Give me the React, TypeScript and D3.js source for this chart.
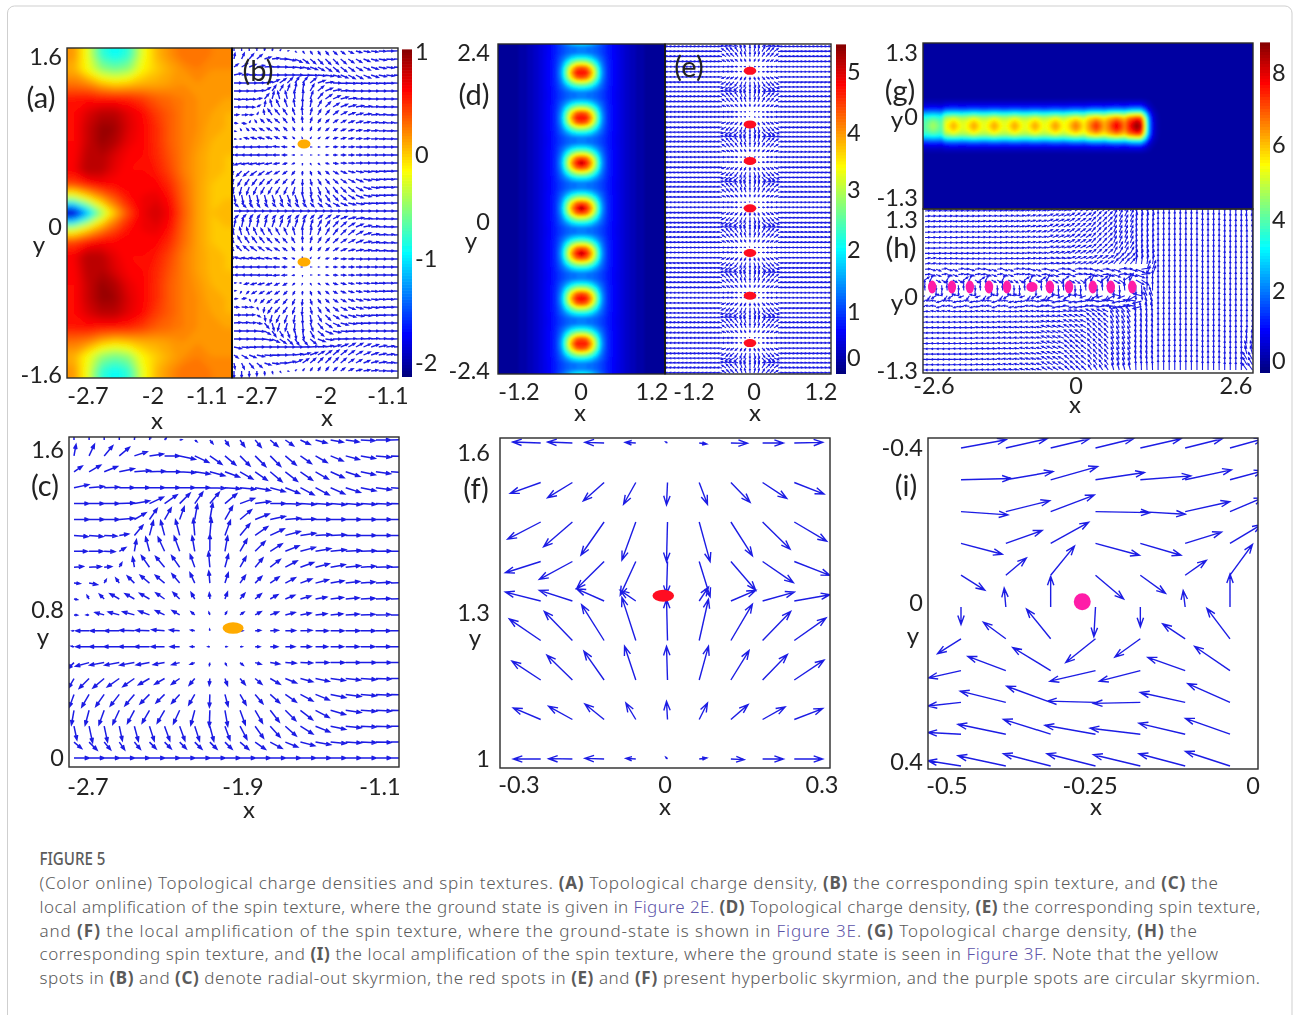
import React from "react";
import * as d3 from "d3";

// ---- values ----

// (a) topological charge density, top row first
const aCharge = [
  [0.18, -0.2, -0.75, -0.88, -0.75, -0.2, 0.08, 0.2, 0.3, 0.3, 0.25, 0.22],
  [0.1, -0.15, -0.45, -0.55, -0.45, -0.12, 0.02, 0.12, 0.2, 0.25, 0.2, 0.2],
  [0.28, 0.22, 0.08, 0.0, 0.05, 0.1, 0.12, 0.16, 0.2, 0.2, 0.15, 0.15],
  [0.55, 0.58, 0.55, 0.55, 0.52, 0.45, 0.35, 0.3, 0.25, 0.2, 0.15, 0.15],
  [0.6, 0.72, 0.82, 0.82, 0.7, 0.6, 0.45, 0.35, 0.25, 0.2, 0.15, 0.1],
  [0.6, 0.78, 0.92, 0.9, 0.72, 0.62, 0.5, 0.35, 0.25, 0.2, 0.12, 0.1],
  [0.6, 0.78, 0.92, 0.85, 0.68, 0.62, 0.5, 0.35, 0.25, 0.18, 0.1, 0.08],
  [0.62, 0.82, 0.85, 0.72, 0.63, 0.6, 0.52, 0.38, 0.25, 0.15, 0.08, 0.05],
  [0.65, 0.85, 0.82, 0.68, 0.6, 0.6, 0.55, 0.42, 0.25, 0.15, 0.08, 0.05],
  [0.42, 0.55, 0.62, 0.62, 0.62, 0.62, 0.62, 0.5, 0.3, 0.15, 0.05, 0.05],
  [-0.4, -0.12, 0.15, 0.38, 0.58, 0.66, 0.7, 0.58, 0.32, 0.15, 0.05, 0.05],
  [-1.95, -1.15, -0.45, 0.05, 0.42, 0.68, 0.76, 0.64, 0.35, 0.15, 0.05, 0.08],
  [-0.4, -0.12, 0.15, 0.38, 0.58, 0.66, 0.7, 0.58, 0.32, 0.15, 0.05, 0.05],
  [0.42, 0.55, 0.62, 0.62, 0.62, 0.62, 0.62, 0.5, 0.3, 0.15, 0.05, 0.05],
  [0.65, 0.85, 0.82, 0.68, 0.6, 0.6, 0.55, 0.42, 0.25, 0.15, 0.08, 0.05],
  [0.62, 0.82, 0.85, 0.72, 0.63, 0.6, 0.52, 0.38, 0.25, 0.15, 0.08, 0.05],
  [0.6, 0.78, 0.92, 0.85, 0.68, 0.62, 0.5, 0.35, 0.25, 0.18, 0.1, 0.08],
  [0.6, 0.78, 0.92, 0.9, 0.72, 0.62, 0.5, 0.35, 0.25, 0.2, 0.12, 0.1],
  [0.6, 0.72, 0.82, 0.82, 0.7, 0.6, 0.45, 0.35, 0.25, 0.2, 0.15, 0.1],
  [0.55, 0.58, 0.55, 0.55, 0.52, 0.45, 0.35, 0.3, 0.25, 0.2, 0.15, 0.15],
  [0.28, 0.22, 0.08, 0.0, 0.05, 0.1, 0.12, 0.16, 0.2, 0.2, 0.15, 0.15],
  [0.1, -0.15, -0.45, -0.55, -0.45, -0.12, 0.02, 0.12, 0.2, 0.25, 0.2, 0.2],
  [0.18, -0.2, -0.75, -0.88, -0.75, -0.2, 0.08, 0.2, 0.3, 0.3, 0.25, 0.22],
];

// (d) one skyrmion: rows are distance from the spot along y, columns along x
const dSpotCell = [
  [4.9, 4.6, 3.8, 2.6, 1.4, 0.8, 0.55, 0.42, 0.3, 0.2, 0.12, 0.05, 0, -0.05, -0.1, -0.1, -0.1],
  [4.3, 4.1, 3.4, 2.4, 1.3, 0.8, 0.55, 0.42, 0.3, 0.2, 0.12, 0.05, 0, -0.05, -0.1, -0.1, -0.1],
  [3.0, 2.9, 2.5, 1.85, 1.15, 0.75, 0.55, 0.42, 0.3, 0.2, 0.12, 0.05, 0, -0.05, -0.1, -0.1, -0.1],
  [1.9, 1.85, 1.65, 1.3, 1.0, 0.72, 0.53, 0.42, 0.3, 0.2, 0.12, 0.05, 0, -0.05, -0.1, -0.1, -0.1],
  [1.2, 1.15, 1.1, 1.0, 0.85, 0.68, 0.52, 0.4, 0.3, 0.2, 0.12, 0.05, 0, -0.05, -0.1, -0.1, -0.1],
];
const dSpotPeaks = [4.7, 4.7, 5.2, 5.3, 5.2, 4.8, 4.6];

// (g) one skyrmion of the chain, and the height of each spot
const gSpotCell = [
  [6.4, 6.1, 5.2, 3.6, 1.9, 0.8, 0.25],
  [6.0, 5.7, 5.0, 3.5, 1.9, 0.75, 0.25],
  [5.4, 5.3, 4.8, 3.4, 1.8, 0.7, 0.25],
];
const gSpotPeaks = [4.6, 6.1, 6.2, 6.2, 6.2, 6.2, 6.3, 6.6, 7.3, 7.8, 8.7];
const gChainEnd = [1, 1, 0.7, 0.3, 0.08, 0.02, 0];

// (f) spin components, rows 1.6 -> 1
const fU = [
  [-85, -75, -58, -32, -5, 23, 50, 63, 86],
  [-92, -75, -63, -37, -3, 25, 58, 73, 90],
  [-100, -87, -70, -42, -3, 33, 65, 83, 98],
  [-107, -100, -83, -47, -3, 33, 75, 93, 108],
  [-107, -100, -83, -47, -3, 28, 75, 96, 108],
  [-95, -85, -68, -42, -3, 28, 65, 85, 96],
  [-87, -77, -61, -34, -3, 28, 55, 75, 90],
  [-83, -72, -58, -30, -3, 25, 52, 68, 86],
  [-83, -72, -58, -30, -5, 23, 40, 63, 86],
];
const fV = [
  [3, 3, 2, 2, 3, -3, -1, 0, 2],
  [-33, -46, -56, -66, -68, -66, -60, -48, -35],
  [-52, -75, -100, -115, -120, -120, -102, -82, -58],
  [-34, -54, -82, -102, -100, -107, -87, -64, -42],
  [27, 32, 37, 32, 37, 42, 32, 27, 19],
  [65, 88, 108, 130, 125, 125, 110, 88, 68],
  [57, 75, 87, 102, 102, 102, 89, 77, 60],
  [35, 40, 47, 50, 55, 50, 45, 38, 33],
  [0, 1, 2, 2, 5, 3, -2, 0, 0],
];
// (e) far from the spots, only the tilt per row is left
const eFarV = [0, -10, -15, -10, 8, 15, 12, 8, 0];

// (i) spin components, rows -0.4 -> 0.4
const iU = [
  [137, 125, 117, 115, 123, 112, 100],
  [152, 143, 142, 148, 153, 140, 100],
  [142, 133, 132, 165, 136, 135, 100],
  [125, 110, 115, 133, 123, 110, 95],
  [72, 62, 72, 85, 76, 64, 68],
  [0, -5, 0, -5, 0, -6, 0],
  [-71, -68, -73, -90, -77, -68, -70],
  [-98, -115, -115, -138, -124, -113, -107],
  [-100, -138, -133, -145, -142, -136, -128],
  [-100, -145, -143, -153, -152, -140, -135],
  [-100, -145, -143, -147, -142, -140, -135],
];
const iV = [
  [25, 28, 28, 28, 28, 28, 28],
  [4, 25, 40, 22, 12, 30, 27],
  [-10, 33, 50, -3, -8, 30, 42],
  [-33, 39, 64, -36, -36, 34, 57],
  [-45, 52, 88, -72, -55, 45, 93],
  [-53, 57, 93, -90, -60, 50, 100],
  [-45, 50, 90, -72, -55, 45, 92],
  [-22, 43, 70, -32, -32, 40, 73],
  [-11, 34, 49, 4, -3, 30, 57],
  [5, 30, 45, 27, 18, 33, 48],
  [16, 31, 37, 37, 34, 37, 44],
];

// (c), also used for (b): arrow direction in degrees and arrow length, y from 1.6 to 0
const cAngle = [
  [90, 90, 90, 90, 85, 75, 50, 10, -40, -50, -55, -55, -50, -40, -35, -25, -15, -10, -8, -3, 0, 2],
  [80, 65, 50, 40, 18, 8, 0, -12, -25, -35, -40, -45, -45, -45, -40, -35, -30, -22, -15, -10, -5, -2],
  [35, 30, 22, 12, 5, 2, 0, -3, -8, -15, -20, -30, -35, -40, -38, -35, -30, -24, -18, -12, -8, -4],
  [12, 5, 2, 0, 0, 0, 0, 0, 0, -2, -4, -6, -10, -15, -22, -28, -28, -24, -18, -12, -8, -4],
  [0, 0, 0, 2, 10, 25, 35, 45, 55, 50, 40, 20, 8, 0, -2, -3, -3, -4, -4, -3, -2, -1],
  [0, 0, 0, 5, 30, 55, 60, 70, 80, 80, 60, 40, 22, 12, 5, 2, 0, 0, 0, 0, 0, 0],
  [-5, -5, -3, 8, 50, 75, 105, 105, 95, 85, 70, 50, 35, 25, 15, 8, 3, 2, 0, 0, 0, 0],
  [0, 0, -2, 30, 80, 105, 115, 110, 100, 90, 80, 60, 45, 32, 22, 15, 10, 6, 3, 2, 1, 0],
  [5, 3, 5, 60, 100, 125, 130, 125, 110, 95, 75, 60, 50, 38, 28, 20, 14, 10, 6, 4, 2, 1],
  [-5, -10, 60, 125, 135, 140, 140, 130, 115, 95, 72, 55, 45, 35, 28, 20, 15, 10, 7, 5, 3, 2],
  [-10, 120, 135, 150, 150, 150, 145, 135, 120, 95, 70, 50, 40, 30, 22, 16, 10, 7, 5, 3, 2, 1],
  [-5, 180, 165, 165, 165, 160, 155, 150, 140, 110, 60, 35, 28, 20, 14, 10, 6, 5, 3, 2, 1, 0],
  [180, 180, 180, 180, 178, 178, 175, 175, 170, 100, 0, 0, 5, 3, 2, 2, 0, 0, 0, 0, 0, 0],
  [170, 180, 180, 180, 180, 180, 180, 180, 180, 180, 0, 0, 0, 0, 0, 0, 0, 0, 0, 0, 0, 0],
  [225, 195, 190, 190, 190, 190, 190, 195, 200, 260, -60, -40, -15, -8, -3, -2, 0, 0, 0, 0, 0, 0],
  [240, 225, 220, 215, 215, 210, 210, 215, 230, 265, -70, -50, -40, -30, -22, -15, -12, -8, -6, -4, -2, 0],
  [250, 240, 235, 232, 230, 225, 225, 228, 240, 268, -75, -60, -50, -42, -35, -28, -22, -12, -8, -5, -3, -2],
  [260, 255, 250, 245, 242, 240, 240, 245, 255, 268, -80, -70, -60, -52, -45, -38, -28, -16, -8, -4, -3, -2],
  [-78, -78, -78, -78, -75, -72, -70, -70, -72, -75, -70, -62, -55, -48, -42, -32, -22, -12, -6, -3, -2, -1],
  [-40, -45, -50, -55, -50, -45, -45, -45, -45, -45, -45, -40, -35, -28, -22, -14, -10, -5, -3, -2, -1, 0],
  [0, 0, 0, 0, 0, 0, 0, 0, 0, 0, 0, 0, 0, 0, 0, 0, 0, 0, 0, 0, 0, 0],
];
const cLength = [
  [40, 38, 32, 28, 22, 14, 8, 6, 8, 14, 20, 24, 28, 30, 30, 32, 35, 38, 40, 42, 44, 45],
  [35, 38, 40, 40, 40, 42, 45, 48, 46, 44, 42, 42, 45, 44, 42, 40, 40, 40, 42, 44, 45, 45],
  [30, 40, 43, 46, 48, 48, 48, 48, 46, 46, 46, 44, 44, 46, 46, 44, 44, 44, 44, 44, 44, 46],
  [45, 45, 45, 45, 46, 46, 46, 46, 46, 46, 46, 46, 46, 46, 46, 46, 46, 46, 46, 46, 46, 46],
  [45, 45, 45, 46, 46, 46, 46, 44, 42, 44, 46, 46, 46, 46, 46, 46, 46, 46, 46, 46, 46, 46],
  [45, 45, 45, 45, 40, 40, 40, 40, 46, 50, 46, 45, 45, 46, 46, 46, 46, 46, 46, 46, 46, 46],
  [42, 42, 38, 28, 40, 45, 46, 48, 50, 52, 48, 46, 46, 46, 46, 46, 46, 46, 46, 46, 46, 46],
  [40, 42, 32, 22, 35, 44, 46, 48, 46, 50, 46, 42, 42, 42, 44, 46, 46, 46, 46, 46, 46, 46],
  [28, 36, 22, 15, 30, 42, 42, 42, 40, 46, 40, 36, 36, 38, 40, 42, 42, 44, 44, 44, 46, 46],
  [18, 25, 12, 18, 30, 36, 36, 36, 34, 36, 32, 28, 28, 32, 34, 36, 40, 40, 42, 42, 44, 44],
  [10, 12, 20, 32, 32, 34, 32, 28, 22, 18, 22, 22, 24, 26, 30, 32, 34, 38, 40, 42, 44, 44],
  [10, 8, 28, 34, 36, 34, 30, 26, 14, 8, 10, 14, 20, 26, 30, 32, 34, 36, 40, 42, 44, 46],
  [5, 40, 42, 44, 44, 42, 38, 30, 12, 4, 6, 8, 16, 24, 30, 34, 38, 40, 42, 44, 44, 44],
  [8, 40, 44, 46, 46, 44, 40, 28, 12, 5, 5, 6, 14, 22, 28, 32, 36, 38, 40, 42, 44, 44],
  [25, 42, 44, 44, 44, 40, 34, 24, 14, 8, 8, 12, 18, 28, 32, 36, 40, 42, 44, 46, 46, 46],
  [32, 42, 44, 44, 42, 38, 34, 30, 26, 20, 22, 24, 26, 34, 36, 38, 42, 44, 44, 46, 46, 46],
  [40, 44, 44, 44, 44, 40, 36, 36, 36, 38, 36, 36, 36, 38, 40, 42, 44, 46, 46, 46, 46, 46],
  [44, 46, 46, 46, 44, 44, 44, 44, 46, 48, 48, 46, 44, 44, 44, 46, 46, 46, 46, 46, 46, 46],
  [42, 50, 48, 44, 46, 46, 46, 46, 46, 46, 44, 44, 44, 44, 44, 44, 46, 46, 46, 46, 46, 46],
  [30, 34, 30, 28, 28, 28, 28, 28, 30, 30, 30, 34, 38, 40, 40, 44, 46, 46, 46, 46, 46, 46],
  [46, 46, 46, 46, 46, 46, 46, 46, 46, 46, 46, 46, 46, 46, 46, 46, 46, 46, 46, 46, 46, 46],
];

// (h) arrow direction in degrees on a coarse lattice, y from 1.3 to -1.3
const hAngle = [
  [5, 5, 5, 8, 10, 12, 18, 28, 45, 62, 80, 90, 90, 90, 90, 95],
  [5, 5, 5, 8, 10, 15, 22, 32, 48, 65, 82, 90, 90, 90, 90, 95],
  [3, 5, 5, 8, 10, 15, 25, 35, 50, 68, 85, 90, 90, 90, 90, 92],
  [3, 3, 5, 5, 8, 12, 22, 32, 48, 68, 85, 90, 90, 90, 90, 90],
  [0, 3, 3, 5, 5, 10, 18, 28, 42, 62, 85, 90, 90, 90, 90, 90],
  [10, 5, 3, 3, 5, 8, 12, 20, 30, 50, 82, 90, 90, 90, 90, 90],
  [10, 5, 5, 5, 5, 5, 8, 12, 20, 30, 70, 90, 90, 90, 90, 90],
  [100, 90, 90, 90, 90, 90, 90, 90, 90, 90, 90, 90, 90, 90, 90, 90],
  [160, 175, 175, 175, 175, 175, 175, 170, 165, 150, 110, 90, 90, 90, 90, 90],
  [175, 170, 175, 170, 175, 170, 175, 165, 155, 130, 100, 90, 90, 90, 90, 90],
  [178, 178, 176, 176, 172, 170, 165, 155, 140, 115, 95, 90, 90, 90, 90, 90],
  [180, 178, 178, 175, 172, 170, 160, 150, 132, 112, 95, 90, 90, 90, 90, 90],
  [180, 178, 178, 175, 172, 168, 158, 145, 130, 110, 95, 90, 90, 90, 90, 95],
  [180, 180, 178, 175, 172, 165, 155, 142, 128, 110, 95, 90, 90, 90, 90, 105],
  [180, 180, 178, 175, 170, 165, 152, 140, 125, 108, 95, 90, 90, 90, 90, 120],
  [180, 180, 178, 175, 170, 165, 150, 138, 122, 105, 92, 90, 90, 90, 90, 125],
];
const hColumnLength = [5, 5, 5, 5, 5, 5, 6, 6, 6, 7, 9, 10, 10, 9, 8, 8];
// (h) around each spot of the chain
const hSwirlAngle = [
  [5, -15, -20, 10],
  [35, 65, -30, -35],
  [95, 95, -90, -85],
  [200, 235, 210, 165],
  [185, 170, 170, 195],
];

// skyrmion spots
const bSpotX = [-2.006, -2.006];
const bSpotY = [0.8, -0.62];
const cSpotX = [-1.905];
const cSpotY = [0.675];
const eSpotY = [2.01, 1.23, 0.7, 0.01, -0.64, -1.26, -1.95];
const fSpotX = [-0.008];
const fSpotY = [1.31];
const hSpotX = [-2.48, -2.14, -1.83, -1.5, -1.19, -0.76, -0.45, -0.12, 0.29, 0.6, 0.97];
const hSpotRound = [-0.76];
const iSpotX = [-0.279];
const iSpotY = [-0.013];

// tick labels
const aXTicks = [-2.7, -2, -1.1];
const aYTicks = [1.6, 0, -1.6];
const aBarTicks = [1, 0, -1, -2];
const cXTicks = [-2.7, -1.9, -1.1];
const cYTicks = [1.6, 0.8, 0];
const dXTicks = [-1.2, 0, 1.2];
const dYTicks = [2.4, 0, -2.4];
const dBarTicks = [5, 4, 3, 2, 1, 0];
const fXTicks = [-0.3, 0, 0.3];
const fYTicks = [1.6, 1.3, 1];
const gXTicks = [-2.6, 0, 2.6];
const gYTicks = [1.3, 0, -1.3];
const gBarTicks = [8, 6, 4, 2, 0];
const iXTicks = [-0.5, -0.25, 0];
const iYTicks = [-0.4, 0, 0.4];

const captionLines = [
  { end: 1218, parts: [["(Color online) Topological charge densities and spin textures. "], ["(A)", "b"], [" Topological charge density, "], ["(B)", "b"], [" the corresponding spin texture, and "], ["(C)", "b"], [" the"]] },
  { end: 1260, parts: [["local amplification of the spin texture, where the ground state is given in "], ["Figure 2E", "l"], [". "], ["(D)", "b"], [" Topological charge density, "], ["(E)", "b"], [" the corresponding spin texture,"]] },
  { end: 1197, parts: [["and "], ["(F)", "b"], [" the local amplification of the spin texture, where the ground-state is shown in "], ["Figure 3E", "l"], [". "], ["(G)", "b"], [" Topological charge density, "], ["(H)", "b"], [" the"]] },
  { end: 1218, parts: [["corresponding spin texture, and "], ["(I)", "b"], [" the local amplification of the spin texture, where the ground state is seen in "], ["Figure 3F", "l"], [". Note that the yellow"]] },
  { end: 1260, parts: [["spots in "], ["(B)", "b"], [" and "], ["(C)", "b"], [" denote radial-out skyrmion, the red spots in "], ["(E)", "b"], [" and "], ["(F)", "b"], [" present hyperbolic skyrmion, and the purple spots are circular skyrmion."]] },
];

// ---- layout and styles ----

const W = 1293;
const H = 1015;
const FONT = "Lato, 'Open Sans', sans-serif";
const BLUE = "#1c1ce4";
const YELLOW = "#ffab00";
const RED = "#ff1020";
const PINK = "#ff1fa8";

const frames = {
  a: { x: 67, y: 48, w: 165, h: 330 },
  b: { x: 232, y: 48, w: 166, h: 330 },
  c: { x: 69, y: 437, w: 330, h: 330 },
  d: { x: 498, y: 44, w: 167, h: 330 },
  e: { x: 665, y: 44, w: 166, h: 330 },
  f: { x: 500, y: 438, w: 330, h: 330 },
  g: { x: 923, y: 43, w: 330, h: 166 },
  h: { x: 923, y: 209, w: 330, h: 164 },
  i: { x: 928, y: 438, w: 330, h: 331 },
};

// the classic jet colormap
const jet = (t) => {
  const c = (v) => Math.round(255 * Math.max(0, Math.min(1, 1.5 - Math.abs(4 * t - v))));
  return `rgb(${c(3)},${c(2)},${c(1)})`;
};

const aColor = d3.scaleSequential(jet).domain([-2.02, 1]);
const dColor = d3.scaleSequential(jet).domain([-0.2, 5.4]);
const gColor = d3.scaleSequential(jet).domain([-0.3, 8.8]);

// ---- building the grids for the three density maps ----

const aGrid = { nx: 12, ny: 23, values: aCharge.flat() };

const dGrid = (() => {
  const nx = 33;
  const ny = 67;
  const values = [];
  for (let j = 0; j < ny; j++) {
    const k = ((j - 6) % 9 + 9) % 9;
    const row = Math.min(k, 9 - k);
    const spot = Math.max(0, Math.min(dSpotPeaks.length - 1, Math.round((j - 6) / 9)));
    for (let i = 0; i < nx; i++) {
      const col = Math.abs(i - 16);
      values.push(row === 0 && col === 0 ? dSpotPeaks[spot] : dSpotCell[row][col]);
    }
  }
  return { nx, ny, values };
})();

const gGrid = (() => {
  const nx = 81;
  const ny = 41;
  const period = 5;
  const first = 2;
  const last = gSpotPeaks.length - 1;
  const values = [];
  for (let j = 0; j < ny; j++) {
    const dy = Math.abs(j - 20);
    for (let i = 0; i < nx; i++) {
      const spot = Math.max(0, Math.min(last, Math.round((i - first) / period)));
      const k = i - first - spot * period;
      const base = gSpotCell[Math.min(2, Math.abs(k))][dy] ?? 0;
      let v = (base * gSpotPeaks[spot]) / gSpotCell[0][0];
      if (spot === last && k > 0) v *= gChainEnd[Math.min(gChainEnd.length - 1, k)];
      values.push(v);
    }
  }
  return { nx, ny, values };
})();

// repeat the border cells so the filled contours run past the panel edge
const padGrid = ({ nx, ny, values }, pad) => {
  const out = [];
  for (let j = -pad; j < ny + pad; j++) {
    const jj = Math.max(0, Math.min(ny - 1, j));
    for (let i = -pad; i < nx + pad; i++) {
      const ii = Math.max(0, Math.min(nx - 1, i));
      out.push(values[jj * nx + ii]);
    }
  }
  return { nx: nx + 2 * pad, ny: ny + 2 * pad, values: out };
};

// ---- arrows ----

// a list of arrows {x, y, u, v} with x, y in px and u, v in px (v up)
const quiverPath = (arrows, headLength, headWidth) => {
  const p = d3.path();
  for (const { x, y, u, v } of arrows) {
    const len = Math.hypot(u, v);
    if (len < 0.01) continue;
    const tx = x + u;
    const ty = y - v;
    const ux = u / len;
    const uy = -v / len;
    const hl = Math.min(headLength, len * 0.6);
    const hw = (headWidth * hl) / headLength;
    p.moveTo(x, y);
    p.lineTo(tx, ty);
    p.moveTo(tx - ux * hl - uy * hw, ty - uy * hl + ux * hw);
    p.lineTo(tx, ty);
    p.lineTo(tx - ux * hl + uy * hw, ty - uy * hl - ux * hw);
  }
  return p.toString();
};

const polar = (deg, len) => [
  len * Math.cos((deg * Math.PI) / 180),
  len * Math.sin((deg * Math.PI) / 180),
];

const cArrows = () => {
  const f = frames.c;
  const x = d3.scaleLinear().domain([0, 21]).range([f.x + 5, f.x + 322]);
  const y = d3.scaleLinear().domain([0, 20]).range([f.y + 3, f.y + 321]);
  const len = d3.scaleLinear().domain([0, 100]).range([0, 33]);
  const out = [];
  cAngle.forEach((row, r) =>
    row.forEach((deg, c) => {
      const [u, v] = polar(deg, len(cLength[r][c]));
      out.push({ x: x(c), y: y(r), u, v });
    })
  );
  return out;
};

const bArrows = () => {
  const f = frames.b;
  const x = d3.scaleLinear().domain([0, 21]).range([f.x + 2, f.x + 162]);
  const y = d3.scaleLinear().domain([0, 20]).range([f.y + 3, f.y + 163]);
  const len = d3.scaleLinear().domain([0, 100]).range([0, 16.5]);
  const out = [];
  cAngle.forEach((row, r) =>
    row.forEach((deg, c) => {
      const [u, v] = polar(deg, len(cLength[r][c]));
      out.push({ x: x(c), y: y(r), u, v });
      // the lower half is the mirror image of the upper one
      if (r < 20) out.push({ x: x(c), y: 2 * y(20) - y(r), u, v: -v });
    })
  );
  return out;
};

const fArrows = () => {
  const f = frames.f;
  const x = d3.scaleLinear().domain([-0.3, 0.3]).range([f.x + 9, f.x + 326]);
  const y = d3.scaleLinear().domain([1.6, 1]).range([f.y + 5, f.y + 321]);
  const len = d3.scaleLinear().domain([0, 100]).range([0, 33]);
  const cols = fU[0].map((_, c) => (c - 4) * 0.06);
  const rows = fU.map((_, r) => 1.6 - r * 0.075);
  const out = [];
  rows.forEach((ry, r) =>
    cols.forEach((cx, c) => {
      out.push({ x: x(cx), y: y(ry), u: len(fU[r][c]), v: len(fV[r][c]) });
    })
  );
  return out;
};

const iArrows = () => {
  const f = frames.i;
  const x = d3.scaleLinear().domain([0, 6]).range([f.x + 33, f.x + 302]);
  const y = d3.scaleLinear().domain([0, 10]).range([f.y + 10, f.y + 328]);
  const len = d3.scaleLinear().domain([0, 100]).range([0, 33]);
  const out = [];
  iU.forEach((row, r) =>
    row.forEach((u, c) => {
      out.push({ x: x(c), y: y(r), u: len(u), v: len(iV[r][c]) });
    })
  );
  return out;
};

const eArrows = () => {
  const f = frames.e;
  const x = d3.scaleLinear().domain([-21, 20]).range([f.x + 1, f.x + 165]);
  const y = d3.scaleLinear().domain([0, 9]).range([f.y + 2.6, f.y + 47.8]);
  const len = d3.scaleLinear().domain([0, 100]).range([0, 4.4]);
  const out = [];
  for (let r = 0; r < 66; r++) {
    const k = (r + 4) % 9;
    for (let c = -21; c <= 20; c++) {
      const far = Math.abs(c) > 6;
      const col = Math.round(c / 1.5) + 4;
      const u = far ? Math.sign(c) * 100 : fU[k][col];
      const v = far ? eFarV[k] : fV[k][col];
      out.push({ x: x(c), y: y(r), u: len(u), v: len(v) });
    }
  }
  return out;
};

const hArrows = () => {
  const f = frames.h;
  const out = [];
  const sx = d3.scaleLinear().domain([-2.6, 2.6]).range([925.2, 1226.8]);
  const spots = hSpotX.map((v) => sx(v));
  for (let r = 0; r < 31; r++) {
    const py = f.y + 2 + r * 5.3;
    for (let c = 0; c < 60; c++) {
      const px = f.x + 2 + c * 5.55;
      const col = Math.min(15, Math.round((px - f.x) / 22));
      const row = Math.min(15, Math.round((py - f.y) / 10.9));
      let deg = hAngle[row][col];
      const dy = py - 287;
      if (Math.abs(dy) <= 20 && px < 1143) {
        const near = d3.least(spots, (s) => Math.abs(s - px));
        const sc = Math.max(0, Math.min(3, Math.floor((px - near + 10) / 5)));
        const sr = Math.max(0, Math.min(4, Math.round((dy + 16) / 8)));
        deg = hSwirlAngle[sr][sc];
      }
      const [u, v] = polar(deg, hColumnLength[col]);
      out.push({ x: px, y: py, u, v });
    }
  }
  return out;
};

// ---- small pieces ----

const Heatmap = ({ id, frame, box, grid, color, low, high, step, blur }) => {
  const pad = 3;
  const { nx, ny, values } = padGrid(grid, pad);
  const area = box ?? frame;
  const sx = area.w / grid.nx;
  const sy = area.h / grid.ny;
  const thresholds = d3.range(low, high, step);
  const contours = d3.contours().size([nx, ny]).thresholds(thresholds)(values);
  const path = d3.geoPath();
  return (
    <g clipPath={`url(#clip-${id})`}>
      <rect x={frame.x} y={frame.y} width={frame.w} height={frame.h} fill={color(low)} />
      <g filter={`url(#${blur})`}>
        <g transform={`translate(${area.x - pad * sx},${area.y - pad * sy}) scale(${sx},${sy})`}>
          {contours.map((c) => (
            <path key={c.value} d={path(c)} fill={color(c.value + step / 2)} />
          ))}
        </g>
      </g>
    </g>
  );
};

const ColorBar = ({ x, top, bottom, color, domain }) => {
  const n = 110;
  const y = d3.scaleLinear().domain(domain).range([bottom, top]);
  const steps = d3.range(n).map((i) => domain[0] + ((domain[1] - domain[0]) * i) / n);
  const h = (bottom - top) / n + 0.6;
  return (
    <g>
      {steps.map((v) => (
        <rect key={v} x={x} y={y(v) - h} width={10} height={h} fill={color(v)} />
      ))}
    </g>
  );
};

// tick labels sit where the figure put them, so their scale is piecewise
const Labels = ({ ticks, positions, at, axis, anchor = "middle" }) => {
  const s = d3.scaleLinear().domain(ticks).range(positions);
  return (
    <g fontFamily={FONT} fontSize={23.5} fill="#222" textAnchor={anchor}>
      {ticks.map((t) => (
        <text key={t} x={axis === "x" ? s(t) : at} y={axis === "x" ? at : s(t)} dy="0.36em">
          {t}
        </text>
      ))}
    </g>
  );
};

const Name = ({ x, y, children, size = 24 }) => (
  <text x={x} y={y} dy="0.32em" fontFamily={FONT} fontSize={size} fill="#222" textAnchor="middle">
    {children}
  </text>
);

const Spots = ({ xs, ys, x, y, rx, ry, fill }) => (
  <g fill={fill}>
    {xs.map((vx, i) => (
      <ellipse key={i} cx={x(vx)} cy={y(ys[i])} rx={rx} ry={ry} />
    ))}
  </g>
);

const Quiver = ({ id, arrows, head, width, stroke = BLUE, opacity = 1 }) => (
  <g clipPath={`url(#clip-${id})`}>
    <path
      d={quiverPath(arrows, head[0], head[1])}
      fill="none"
      stroke={stroke}
      strokeWidth={width}
      strokeOpacity={opacity}
    />
  </g>
);

const blurFilter = (id, dev) => (
  <filter key={id} id={id} x={0} y={0} width={W} height={840} filterUnits="userSpaceOnUse">
    <feGaussianBlur stdDeviation={dev} />
  </filter>
);

const App = () => {
  const spotScale = {
    bx: d3.scaleLinear().domain([-2.7, -1.1]).range([frames.b.x, frames.b.x + frames.b.w]),
    by: d3.scaleLinear().domain([0.8, -0.62]).range([144, 262]),
    cx: d3.scaleLinear().domain([-2.7, -1.1]).range([88, 380]),
    cy: d3.scaleLinear().domain([1.6, 0]).range([450, 758]),
    ex: d3.scaleLinear().domain([-1.2, 1.2]).range([694, 806]),
    ey: d3.scaleLinear().domain([2.4, -2.4]).range([44, 374]),
    fx: d3.scaleLinear().domain([-0.3, 0.3]).range([509, 826]),
    fy: d3.scaleLinear().domain([1.6, 1]).range([443, 759]),
    hx: d3.scaleLinear().domain([-2.6, 2.6]).range([925.2, 1226.8]),
    ix: d3.scaleLinear().domain([-0.5, 0]).range([947, 1253]),
    iy: d3.scaleLinear().domain([-0.4, 0.4]).range([448, 766]),
  };
  const hSpotOval = hSpotX.filter((v) => !hSpotRound.includes(v));

  return (
    <svg
      width={W}
      height={H}
      viewBox={`0 0 ${W} ${H}`}
      style={{ position: "absolute", left: 0, top: 0, display: "block", background: "#fff" }}
    >
      <defs>
        {Object.entries(frames).map(([k, f]) => (
          <clipPath key={k} id={`clip-${k}`}>
            <rect x={f.x} y={f.y} width={f.w} height={f.h} />
          </clipPath>
        ))}
        {blurFilter("soft", 0.45)}
        {blurFilter("heat-a", 3)}
        {blurFilter("heat-d", 1)}
        {blurFilter("heat-g", 0.9)}
      </defs>

      <rect x={7.5} y={6} width={1284.5} height={1100} rx={7} fill="none" stroke="#cfcfcf" />

      <g filter="url(#soft)">
        {/* top left: charge density and texture */}
        <Heatmap id="a" frame={frames.a} grid={aGrid} color={aColor} low={-2} high={1} step={0.05} blur="heat-a" />
        <Quiver id="b" arrows={bArrows()} head={[2.6, 1]} width={1.35} />
        <Spots xs={bSpotX} ys={bSpotY} x={spotScale.bx} y={spotScale.by} rx={6.5} ry={4.6} fill={YELLOW} />

        {/* top middle */}
        <Heatmap
          id="d"
          frame={frames.d}
          box={{ x: 498, y: 40.07, w: 167, h: 336.3 }}
          grid={dGrid}
          color={dColor}
          low={-0.2}
          high={5.4}
          step={0.09}
          blur="heat-d"
        />
        <Quiver id="e" arrows={eArrows()} head={[1.8, 0.8]} width={1.1} />
        <Spots
          xs={eSpotY.map(() => 0)}
          ys={eSpotY}
          x={spotScale.ex}
          y={spotScale.ey}
          rx={6.3}
          ry={4}
          fill={RED}
        />

        {/* top right */}
        <Heatmap id="g" frame={frames.g} grid={gGrid} color={gColor} low={-0.3} high={8.8} step={0.12} blur="heat-g" />
        <Quiver id="h" arrows={hArrows()} head={[2, 0.9]} width={1.1} />
        <Spots
          xs={hSpotOval}
          ys={hSpotOval.map(() => 287)}
          x={spotScale.hx}
          y={(v) => v}
          rx={4.2}
          ry={6.4}
          fill={PINK}
        />
        <Spots
          xs={hSpotRound}
          ys={hSpotRound.map(() => 287)}
          x={spotScale.hx}
          y={(v) => v}
          rx={5.6}
          ry={5}
          fill={PINK}
        />

        {/* amplified textures */}
        <Quiver id="c" arrows={cArrows()} head={[4.5, 1.7]} width={1.5} />
        <Spots xs={cSpotX} ys={cSpotY} x={spotScale.cx} y={spotScale.cy} rx={10.5} ry={5.8} fill={YELLOW} />

        <Quiver id="f" arrows={fArrows()} head={[9, 3.2]} width={1.4} />
        <Spots xs={fSpotX} ys={fSpotY} x={spotScale.fx} y={spotScale.fy} rx={10.8} ry={6} fill={RED} />

        <Quiver id="i" arrows={iArrows()} head={[9, 3.2]} width={1.4} />
        <Spots xs={iSpotX} ys={iSpotY} x={spotScale.ix} y={spotScale.iy} rx={8.5} ry={8.5} fill={PINK} />

        {/* frames */}
        <g fill="none" stroke="#2b2b2b" strokeWidth={1.4}>
          {Object.entries(frames).map(([k, f]) => (
            <rect key={k} x={f.x} y={f.y} width={f.w} height={f.h} />
          ))}
        </g>
        <line x1={232} x2={232} y1={48} y2={378} stroke="#111" strokeWidth={2} />
        <line x1={665} x2={665} y1={44} y2={374} stroke="#111" strokeWidth={1.6} />

        {/* colour bars */}
        <ColorBar x={402} top={50} bottom={377} color={aColor} domain={[-2.02, 1]} />
        <ColorBar x={836} top={45} bottom={374} color={dColor} domain={[-0.2, 5.4]} />
        <ColorBar x={1260} top={43} bottom={373} color={gColor} domain={[-0.3, 8.8]} />

        {/* tick labels */}
        <Labels ticks={aXTicks} positions={[88, 153, 207]} at={396} axis="x" />
        <Labels ticks={aXTicks} positions={[257, 326, 388]} at={396} axis="x" />
        <Labels ticks={aYTicks} positions={[57, 227, 375]} at={62} axis="y" anchor="end" />
        <Labels ticks={aBarTicks} positions={[52, 155, 259, 363]} at={415} axis="y" anchor="start" />

        <Labels ticks={dXTicks} positions={[519, 581, 652]} at={392} axis="x" />
        <Labels ticks={dXTicks} positions={[694, 754, 821]} at={392} axis="x" />
        <Labels ticks={dYTicks} positions={[53, 222, 371]} at={490} axis="y" anchor="end" />
        <Labels ticks={dBarTicks} positions={[72, 133, 190, 250, 312, 358]} at={847} axis="y" anchor="start" />

        <Labels ticks={gYTicks} positions={[53, 117, 198]} at={918} axis="y" anchor="end" />
        <Labels ticks={gYTicks} positions={[220, 297, 371]} at={918} axis="y" anchor="end" />
        <Labels ticks={gXTicks} positions={[934, 1076, 1236]} at={386} axis="x" />
        <Labels ticks={gBarTicks} positions={[73, 145, 220, 291, 361]} at={1272} axis="y" anchor="start" />

        <Labels ticks={cXTicks} positions={[88, 243, 380]} at={787} axis="x" />
        <Labels ticks={cYTicks} positions={[450, 610, 758]} at={64} axis="y" anchor="end" />
        <Labels ticks={fXTicks} positions={[519, 665, 822]} at={785} axis="x" />
        <Labels ticks={fYTicks} positions={[453, 613, 759]} at={490} axis="y" anchor="end" />
        <Labels ticks={iXTicks} positions={[947, 1090, 1253]} at={786} axis="x" />
        <Labels ticks={iYTicks} positions={[448, 603, 762]} at={923} axis="y" anchor="end" />

        {/* axis names and panel letters */}
        <Name x={157} y={421}>x</Name>
        <Name x={327} y={418}>x</Name>
        <Name x={39} y={245}>y</Name>
        <Name x={580} y={413}>x</Name>
        <Name x={755} y={413}>x</Name>
        <Name x={471} y={241}>y</Name>
        <Name x={1075} y={405}>x</Name>
        <Name x={897} y={120}>y</Name>
        <Name x={897} y={303}>y</Name>
        <Name x={249} y={810}>x</Name>
        <Name x={43} y={637}>y</Name>
        <Name x={665} y={807}>x</Name>
        <Name x={475} y={638}>y</Name>
        <Name x={1096} y={807}>x</Name>
        <Name x={913} y={636}>y</Name>

        <Name x={41} y={99} size={29}>(a)</Name>
        <Name x={258} y={72} size={29}>(b)</Name>
        <Name x={45} y={487} size={29}>(c)</Name>
        <Name x={474} y={96} size={29}>(d)</Name>
        <Name x={689} y={68} size={29}>(e)</Name>
        <Name x={476} y={490} size={29}>(f)</Name>
        <Name x={900} y={92} size={29}>(g)</Name>
        <Name x={901} y={249} size={29}>(h)</Name>
        <Name x={906} y={487} size={29}>(i)</Name>
      </g>

      {/* caption */}
      <text
        x={39.5}
        y={865}
        fontFamily="'Noto Sans', sans-serif"
        fontSize={18}
        fontWeight={500}
        fill="#5c5c5c"
        textLength={66}
        lengthAdjust="spacingAndGlyphs"
      >
        FIGURE 5
      </text>
      {captionLines.map((line, i) => (
        <text
          key={i}
          x={39.5}
          y={889 + i * 23.8}
          fontFamily="'Noto Sans', sans-serif"
          fontSize={17}
          fontWeight={300}
          fill="#5a5a5a"
          textLength={line.end - 39.5}
          lengthAdjust="spacing"
        >
          {line.parts.map(([s, kind], j) => (
            <tspan
              key={j}
              fontWeight={kind === "b" ? 700 : 300}
              fill={kind === "l" ? "#5b52a8" : undefined}
            >
              {s}
            </tspan>
          ))}
        </text>
      ))}
    </svg>
  );
};

export default App;
